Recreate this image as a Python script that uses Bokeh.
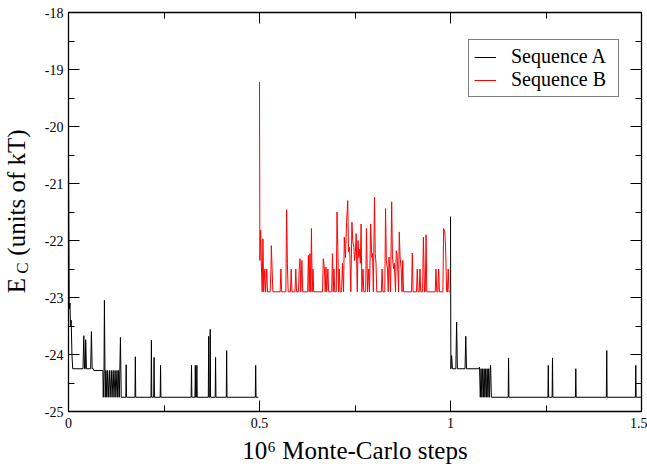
import math
from bokeh.plotting import figure
from bokeh.layouts import row
from bokeh.models import (Range1d, LinearAxis, SingleIntervalTicker, CustomJSTickFormatter,
                          Legend, LegendItem)
from bokeh.core.properties import value
from bokeh.embed import file_html
from bokeh.resources import INLINE

FONT = "Liberation Serif"

# ---------------- data (x in 10^6 Monte-Carlo steps, E_C in kT) ----------------
# Sequence A, first stretch: relaxation part
a1_head_x = [0.000, 0.002, 0.004, 0.005, 0.007, 0.009, 0.011, 0.038, 0.040, 0.042, 0.044,
             0.045, 0.047, 0.058, 0.060, 0.062, 0.065, 0.066, 0.090, 0.091, 0.093, 0.094,
             0.096, 0.098, 0.100, 0.102, 0.104, 0.107, 0.109, 0.112, 0.114, 0.117, 0.119,
             0.122, 0.124, 0.127, 0.129, 0.131, 0.133, 0.136, 0.138]
a1_head_e = [-20.5, -23.2, -23.1, -23.5, -23.4, -24.0, -24.25, -24.25, -23.67, -24.25, -24.25,
             -23.74, -24.25, -24.25, -23.60, -24.25, -24.25, -24.28, -24.28, -24.75, -24.28, -23.05,
             -24.75, -24.28, -24.75, -24.28, -24.75, -24.28, -24.75, -24.28, -24.75, -24.28, -24.75,
             -24.28, -24.75, -24.28, -24.75, -24.28, -24.75, -23.70, -24.75]
# Sequence A, first stretch: excursions from the ground level
a1_base = -24.75
a1_spike_x = [0.151, 0.175, 0.217, 0.224, 0.241, 0.322, 0.332, 0.336, 0.367, 0.371, 0.385, 0.414, 0.490]
a1_spike_e = [-24.18, -24.04, -23.75, -24.05, -24.19, -24.19, -24.19, -24.19, -23.68, -23.56, -24.05, -23.93, -24.19]
a1_end = 0.497

# Sequence A, second stretch
a2_head_x = [1.000, 1.001, 1.003, 1.005, 1.014, 1.016, 1.018, 1.038, 1.040, 1.042, 1.074, 1.076,
             1.078, 1.080, 1.082, 1.084, 1.086, 1.088, 1.090, 1.092, 1.094, 1.096, 1.098, 1.100,
             1.102, 1.104, 1.105, 1.107]
a2_head_e = [-21.58, -24.25, -24.02, -24.25, -24.25, -23.43, -24.25, -24.25, -23.68, -24.25, -24.25, -24.22,
             -24.75, -24.25, -24.75, -24.25, -24.75, -24.25, -24.75, -24.25, -24.75, -24.25, -24.75, -24.25,
             -24.75, -24.25, -24.19, -24.75]
a2_base = -24.75
a2_spike_x = [1.152, 1.256, 1.267, 1.328, 1.409, 1.485]
a2_spike_e = [-24.06, -24.19, -24.06, -24.25, -23.93, -24.19]
a2_end = 1.500

# Sequence B trace
b_x = [0.500, 0.501, 0.503, 0.505, 0.507, 0.509, 0.511, 0.514, 0.516, 0.519, 0.521, 0.528, 0.530,
       0.531, 0.533, 0.535, 0.554, 0.556, 0.558, 0.569, 0.571, 0.573, 0.575, 0.581, 0.583, 0.585,
       0.593, 0.595, 0.597, 0.602, 0.604, 0.606, 0.608, 0.611, 0.613, 0.626, 0.628, 0.630, 0.632,
       0.634, 0.636, 0.638, 0.640, 0.642, 0.665, 0.667, 0.670, 0.672, 0.674, 0.676, 0.679, 0.681,
       0.689, 0.691, 0.693, 0.695, 0.697, 0.701, 0.703, 0.705, 0.707, 0.709, 0.711, 0.715, 0.717,
       0.720, 0.722, 0.725, 0.728, 0.731, 0.733, 0.736, 0.739, 0.742, 0.744, 0.747, 0.749, 0.751,
       0.753, 0.756, 0.758, 0.760, 0.762, 0.764, 0.766, 0.768, 0.771, 0.773, 0.778, 0.780, 0.783,
       0.786, 0.788, 0.791, 0.794, 0.796, 0.798, 0.801, 0.803, 0.805, 0.807, 0.819, 0.821, 0.823,
       0.828, 0.830, 0.832, 0.835, 0.837, 0.839, 0.841, 0.843, 0.846, 0.848, 0.851, 0.853, 0.856,
       0.858, 0.860, 0.862, 0.864, 0.866, 0.868, 0.871, 0.873, 0.875, 0.877, 0.898, 0.900, 0.902,
       0.911, 0.913, 0.915, 0.918, 0.920, 0.922, 0.927, 0.929, 0.932, 0.934, 0.936, 0.938, 0.960,
       0.962, 0.964, 0.967, 0.969, 0.971, 0.980, 0.982, 0.985, 0.987, 0.990, 0.992, 0.994, 0.996,
       1.000]
b_e = [-19.22, -22.35, -21.82, -22.45, -22.90, -21.97, -22.90, -22.50, -22.90, -22.50, -22.90, -22.90, -22.50,
       -22.09, -22.50, -22.90, -22.90, -22.50, -22.90, -22.90, -21.46, -22.40, -22.90, -22.90, -22.50, -22.90,
       -22.90, -22.50, -22.90, -22.90, -22.50, -22.32, -22.90, -22.35, -22.90, -22.90, -22.26, -22.90, -22.23,
       -22.90, -21.79, -22.90, -22.50, -22.90, -22.90, -22.32, -22.50, -22.90, -22.47, -22.90, -22.50, -22.90,
       -22.90, -22.23, -22.90, -22.50, -22.90, -22.90, -21.50, -22.12, -22.90, -22.50, -22.90, -22.90, -22.40,
       -22.90, -21.94, -22.30, -21.68, -21.30, -22.20, -22.12, -22.90, -21.68, -22.00, -22.12, -22.35, -22.20,
       -21.88, -22.90, -22.00, -22.30, -22.15, -22.40, -21.71, -22.90, -22.50, -22.90, -22.90, -21.79, -22.90,
       -22.50, -22.90, -21.71, -22.30, -22.23, -22.90, -21.24, -22.23, -22.40, -22.90, -22.90, -22.50, -22.90,
       -22.90, -21.44, -22.35, -22.50, -22.90, -22.29, -22.50, -22.90, -21.32, -22.29, -22.50, -22.40, -22.90,
       -22.18, -22.23, -22.50, -22.90, -21.85, -22.29, -22.50, -22.90, -22.35, -22.90, -22.90, -22.22, -22.90,
       -22.90, -22.50, -22.90, -22.90, -22.50, -22.90, -22.90, -21.94, -22.90, -22.90, -21.90, -22.90, -22.90,
       -22.50, -22.90, -22.90, -22.50, -22.90, -22.90, -21.79, -21.85, -22.10, -22.90, -22.90, -22.50, -22.90,
       -22.90]

x_range = (0.0, 1.5)
y_range = (-25.0, -18.0)
legend_labels = ["Sequence A", "Sequence B"]
x_title = "10\u2076 Monte-Carlo steps"
y_title_parts = ["E", "C", "(units of kT)"]


def stretch(head_x, head_e, base, spike_x, spike_e, end, w=0.001):
    xs, es = list(head_x), list(head_e)
    for sx, se in zip(spike_x, spike_e):
        xs += [sx - w, sx, sx + w]
        es += [base, se, base]
    xs.append(end)
    es.append(base)
    return xs, es


ax1, ae1 = stretch(a1_head_x, a1_head_e, a1_base, a1_spike_x, a1_spike_e, a1_end)
ax2, ae2 = stretch(a2_head_x, a2_head_e, a2_base, a2_spike_x, a2_spike_e, a2_end)
a_x = ax1 + [float("nan")] + ax2
a_e = ae1 + [float("nan")] + ae2

STRIP = 36  # width of the y-title strip

# ---------------- main figure ----------------
p = figure(width=647 - STRIP, height=468, x_range=Range1d(*x_range), y_range=Range1d(*y_range),
           output_backend="svg", toolbar_location=None,
           min_border_left=68 - STRIP, min_border_right=6, min_border_top=12, min_border_bottom=57)
p.grid.visible = False
p.outline_line_color = "black"
p.background_fill_color = "white"
p.border_fill_color = "white"

fmt = CustomJSTickFormatter(code="return String(Math.round(tick*100)/100);")
blank = CustomJSTickFormatter(code="return '';")


def style(ax, labels=True):
    ax.axis_line_color = "black"
    ax.axis_line_width = 1.3
    ax.major_tick_line_color = "black"
    ax.minor_tick_line_color = "black"
    ax.major_tick_in = 11
    ax.major_tick_out = 0
    ax.minor_tick_in = 6
    ax.minor_tick_out = 0
    ax.major_label_text_font = FONT
    ax.major_label_text_color = "black"
    if labels:
        ax.formatter = fmt
        ax.major_label_text_font_size = "14px"
        ax.major_label_standoff = 6
    else:
        ax.formatter = blank
        ax.major_label_text_font_size = "1px"
        ax.major_label_standoff = 0


xb = p.xaxis[0]
xb.ticker = SingleIntervalTicker(interval=0.5, num_minor_ticks=2)
style(xb)
xb.axis_label = x_title
xb.axis_label_text_font = FONT
xb.axis_label_text_font_size = "25px"
xb.axis_label_text_font_style = "normal"
xb.axis_label_text_color = "black"
xb.axis_label_standoff = 6

yl = p.yaxis[0]
yl.ticker = SingleIntervalTicker(interval=1, num_minor_ticks=2)
style(yl)
yl.major_label_standoff = 5

xt = LinearAxis(ticker=SingleIntervalTicker(interval=0.5, num_minor_ticks=2))
style(xt, labels=False)
p.add_layout(xt, "above")
yr = LinearAxis(ticker=SingleIntervalTicker(interval=1, num_minor_ticks=2))
style(yr, labels=False)
p.add_layout(yr, "right")

ra = p.line(a_x, a_e, line_color="black", line_width=1)
rb = p.line(b_x, b_e, line_color="#ff0000", line_width=1)

legend = Legend(items=[LegendItem(label=legend_labels[0], renderers=[ra]),
                       LegendItem(label=legend_labels[1], renderers=[rb])],
                location=(400, 314), orientation="vertical",
                label_text_font=FONT, label_text_font_size="20px", label_text_color="black",
                label_height=23, label_width=102, glyph_height=20, glyph_width=22,
                label_standoff=15, spacing=0, padding=5, margin=0,
                border_line_color="black", border_line_width=1, background_fill_alpha=1)
p.add_layout(legend)

# ---------------- y-axis title strip (E with subscript C) ----------------
# the strip's frame is aligned with the main frame (page y 12..411); data y = 468 - page y
ylab = figure(width=STRIP, height=468, x_range=Range1d(0, STRIP), y_range=Range1d(468 - 411, 468 - 12),
              x_axis_type=None, y_axis_type=None, toolbar_location=None,
              output_backend="svg", min_border=0)
ylab.grid.visible = False
ylab.outline_line_color = None
ylab.background_fill_color = "white"
ylab.border_fill_color = "white"
tstyle = dict(angle=math.pi / 2, text_font=value(FONT), text_color="black",
              text_baseline="middle", text_align="center")
ylab.text(x=[16], y=[183], text=[y_title_parts[0]], text_font_size=value("25px"), **tstyle)
ylab.text(x=[21.5], y=[200.5], text=[y_title_parts[1]], text_font_size=value("17px"), **tstyle)
ylab.text(x=[16], y=[276], text=[y_title_parts[2]], text_font_size=value("25px"), **tstyle)

layout = row(ylab, p)
open("out.html", "w").write(file_html(layout, INLINE))
